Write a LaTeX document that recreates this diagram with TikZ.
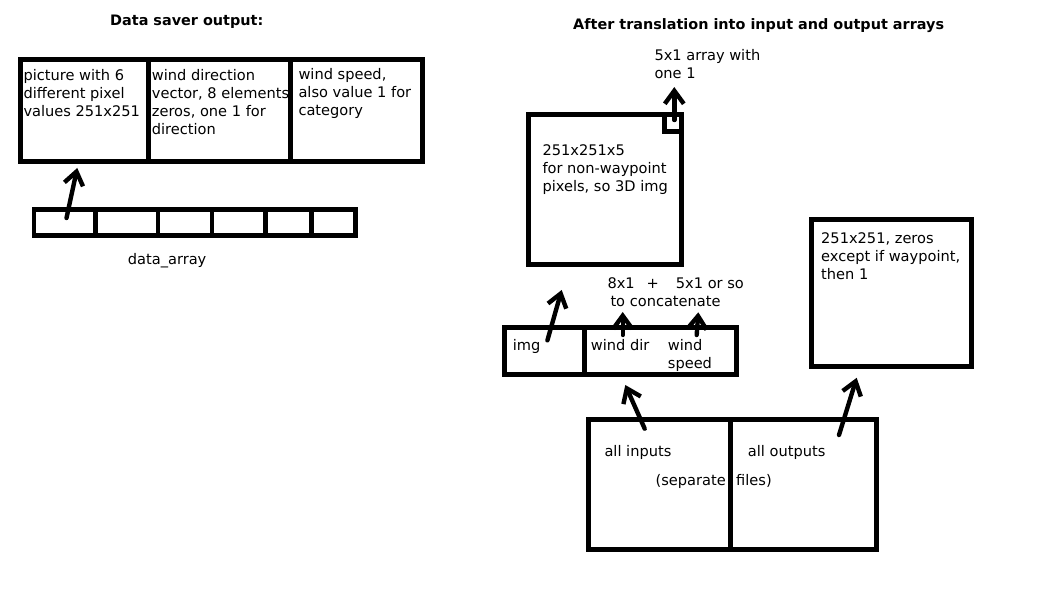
\documentclass[tikz,border=0pt]{standalone}
\usepackage{fontspec}
\setmainfont{DejaVu Sans}
\usetikzlibrary{arrows.meta, positioning}

\begin{document}
\begin{tikzpicture}[x=1pt,y=-1pt,>={Straight Barb[length=13pt,width=19pt]},
	font=\fontsize{14.6}{18}\selectfont]

	\tikzset{cell/.style={draw, line width=5pt, inner sep=0pt, outer sep=0pt,
			anchor=north west, minimum height=#1},
		txt/.style={anchor=base west, inner sep=0pt, align=left},
		ttl/.style={anchor=base west, inner sep=0pt,
			font=\fontsize{14.4}{17}\selectfont\bfseries},
		arr/.style={->, line width=4.4pt, line cap=round}}

	\useasboundingbox (0,0) rectangle (1052,601);

	% titles
	\node[ttl] (ttlsaver) at (110,26) {Data saver output:};
	\node[ttl] (ttltrans) at (573,30) {After translation into input and output arrays};

	% data saver output (text nodes sit on the baseline of their last line)
	\node[cell=101.5pt, minimum width=128.5pt] (pic) at (20,60) {};
	\node[cell=101.5pt, minimum width=142pt, right=0pt of pic] (dir) {};
	\node[cell=101.5pt, minimum width=132pt, right=0pt of dir] (spd) {};
	\node[txt] (pictxt) at (23.3,117) {picture with 6\\different pixel\\values 251x251};
	\node[txt] (dirtxt) at (151.7,135) {wind direction\\vector, 8 elements\\zeros, one 1 for\\direction};
	\node[txt] (spdtxt) at (298.3,116) {wind speed,\\also value 1 for\\category};

	\foreach \xa/\xb [count=\i] in {33.7/95.3, 95.3/157.7, 157.7/211.7,
		211.7/265.3, 265.3/311.3, 311.3/355.5}
	\node[cell=26pt, line width=4.4pt, minimum width={(\xb-\xa)*1pt}] (d\i) at (\xa,209.5) {};
	\node[txt] (dlbl) at (127.7,265) {data\_array};

	\draw[arr] ([xshift=2pt,yshift=4.5pt]d1.center) -- ([xshift=-7pt,yshift=-6.5pt]pic.south);

	% input image
	\node[cell=150pt, minimum width=153.2pt] (img3d) at (528.3,115) {};
	\node[cell=16.7pt, minimum width=17pt, line width=4.4pt, anchor=north east] (onehot) at (img3d.north east) {};
	\node[txt] (imgtxt) at (542.3,192) {251x251x5\\for non-waypoint\\pixels, so 3D img};
	\node[txt] (onelbl) at (654.3,79) {5x1 array with\\one 1};
	\draw[arr] ([xshift=1.3pt,yshift=3.3pt]onehot.center) -- ++(0,-33);

	\node[txt] (catlbl) at (607.3,306.5) {8x1\hspace{12pt}+\hspace{17pt}5x1 or so\\\hspace{3pt}to concatenate};

	% concatenated inputs
	\node[cell=47.3pt, minimum width=79.8pt] (imgcell) at (504.5,327.7) {};
	\node[cell=47.3pt, minimum width=152pt, right=0pt of imgcell] (windcell) {};
	\node[txt] (imglbl) at (512.7,351) {img};
	\node[txt] (dirlbl) at (590.7,351) {wind dir};
	\node[txt] (spdlbl) at (667.7,369) {wind\\speed};

	\draw[arr] ([xshift=3pt,yshift=11pt]imgcell.center) -- ([xshift=33.4pt,yshift=-25pt]img3d.south west);
	\draw[arr] ([xshift=38.4pt,yshift=-7.3pt]windcell.north west) -- ++(0,-23);
	\draw[arr] ([xshift=112.4pt,yshift=-7.3pt]windcell.north west) -- ++(1.6,-22.7);

	% files
	\node[cell=129.3pt, minimum width=141.8pt] (inbox) at (588.7,419.7) {};
	\node[cell=129.3pt, minimum width=145.7pt, right=0pt of inbox] (outbox) {};
	\node[txt] (inlbl) at (604.3,456.7) {all inputs};
	\node[txt] (outlbl) at (747.7,456.7) {all outputs};
	\node[anchor=base east, inner sep=0pt] (seplbl) at (726,485) {(separate};
	\node[txt] (fileslbl) at (736,485) {files)};

	% output waypoints
	\node[cell=146.8pt, minimum width=159.8pt] (wpbox) at (811.7,220) {};
	\node[txt] (wptxt) at (821,279.3) {251x251, zeros\\except if waypoint,\\then 1};

	\draw[arr] ([xshift=56pt,yshift=-9pt]inbox.north west) -- ([xshift=41pt,yshift=-10pt]windcell.south west);
	\draw[arr] ([xshift=108.5pt,yshift=-15.3pt]outbox.north west) -- ([xshift=45pt,yshift=-11pt]wpbox.south west);

\end{tikzpicture}
\end{document}
